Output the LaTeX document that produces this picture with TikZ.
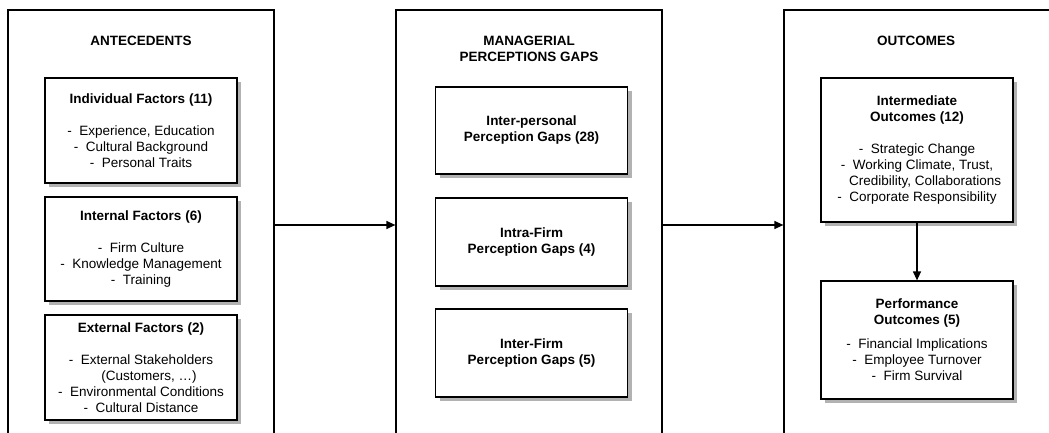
\documentclass[tikz,border=0pt]{standalone}
\usepackage{fontspec}
\setmainfont{Liberation Sans}
\usepackage{tikz}
\usetikzlibrary{arrows.meta,shadows}
\tikzset{
  group box/.style={draw, line width=1.2pt, minimum width=266pt, minimum height=440pt, anchor=north},
  group title/.style={font=\fontsize{13.5}{16}\selectfont\bfseries, align=center},
  factor box/.style={draw, line width=1.2pt, fill=white, align=center, inner sep=0pt,
    minimum width=192pt, minimum height=#1,
    drop shadow={shadow xshift=4pt, shadow yshift=-4pt, fill=black!30, opacity=1}},
  flow/.style={-{Triangle[length=9pt,width=8pt]}, line width=1.2pt}
}
\tikzset{every node/.append style={font=\fontsize{13.5}{16}\selectfont}}

\begin{document}
\begin{tikzpicture}[x=1pt, y=-1pt]
  \useasboundingbox (0,0) rectangle (1049,433);
  \clip (0,0) rectangle (1049,433);

  \node[group box] (antec) at (141,9.5) {};
  \node[group box] (gaps) at (529,9.5) {};
  \node[group box] (outc) at (917,9.5) {};

  \node[group title] (antectitle) at (141,41) {ANTECEDENTS};
  \node[group title] (gapstitle) at (529,49) {MANAGERIAL\\PERCEPTIONS GAPS};
  \node[group title] (outctitle) at (916,41) {OUTCOMES};

  \node[factor box=105pt] (indiv) at (141,130.5) {\textbf{Individual Factors (11)}\\[16pt]
    -~~Experience, Education\\-~~Cultural Background\\-~~Personal Traits};
  \node[factor box=104pt] (internal) at (141,249) {\textbf{Internal Factors (6)}\\[16pt]
    -~~Firm Culture\\-~~Knowledge Management\\-~~Training};
  \node[factor box=105pt] (external) at (141,367.5) {\textbf{External Factors (2)}\\[16pt]
    -~~External Stakeholders\\\hspace*{1.2em}(Customers, …)\\-~~Environmental Conditions\\-~~Cultural Distance};

  \node[factor box=87pt] (interpers) at (531.5,130.5) {\textbf{Inter-personal}\\\textbf{Perception Gaps (28)}};
  \node[factor box=88pt] (intrafirm) at (531.5,242) {\textbf{Intra-Firm}\\\textbf{Perception Gaps (4)}};
  \node[factor box=88pt] (interfirm) at (531.5,353) {\textbf{Inter-Firm}\\\textbf{Perception Gaps (5)}};

  \node[factor box=144pt] (inter) at (917,150) {\textbf{Intermediate}\\\textbf{Outcomes (12)}\\[16pt]
    -~~Strategic Change\\-~~Working Climate, Trust,\\\hspace*{1.2em}Credibility, Collaborations\\-~~Corporate Responsibility};
  \node[factor box=118pt] (perf) at (917,340) {\textbf{Performance}\\\textbf{Outcomes (5)}\\[8pt]
    -~~Financial Implications\\-~~Employee Turnover\\-~~Firm Survival};

  \coordinate (flowline) at (0,225);
  \draw[flow] (antec.east |- flowline) -- (gaps.west |- flowline);
  \draw[flow] (gaps.east |- flowline) -- (outc.west |- flowline);
  \draw[flow] (inter.south) -- (perf.north);
\end{tikzpicture}
\end{document}
